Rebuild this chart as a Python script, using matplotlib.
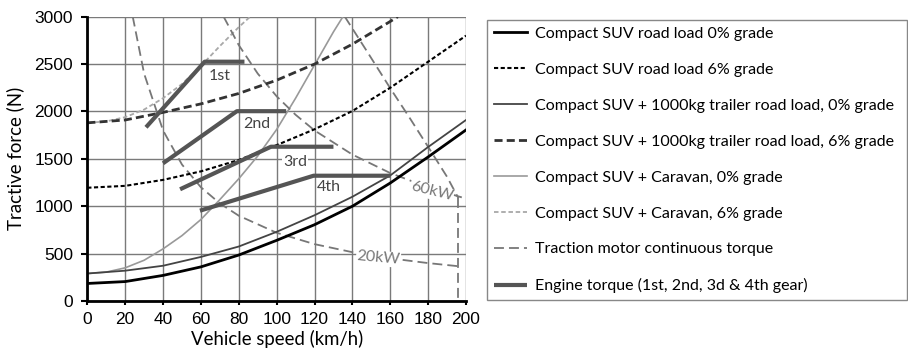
import numpy as np
import matplotlib
matplotlib.use("Agg")
import matplotlib.pyplot as plt

# ---- data (speed km/h, tractive force N) ----
speed = [0, 20, 40, 60, 80, 100, 120, 140, 160, 180, 200]
suv_0 = [185, 205, 270, 360, 485, 640, 805, 1000, 1245, 1520, 1805]
suv_6 = [1195, 1215, 1278, 1368, 1488, 1645, 1812, 2005, 2250, 2525, 2800]
trailer_0 = [290, 320, 372, 465, 575, 730, 905, 1100, 1325, 1625, 1910]

trailer_6_speed = [0, 20, 40, 60, 80, 100, 120, 140, 160, 164]
trailer_6 = [1880, 1910, 1990, 2080, 2190, 2330, 2500, 2710, 2950, 3000]

caravan_0_speed = [0, 10, 20, 30, 40, 50, 60, 70, 80, 90, 100, 110, 120, 130, 135]
caravan_0 = [290, 305, 350, 430, 550, 690, 860, 1070, 1290, 1530, 1810, 2140, 2490, 2840, 3000]

caravan_6_speed = [0, 10, 20, 30, 40, 50, 60, 70, 80, 86]
caravan_6 = [1880, 1895, 1940, 2020, 2140, 2290, 2480, 2690, 2890, 3000]

# traction motor continuous torque
motor_20_speed = [24, 30, 40, 50, 60, 70, 80, 100, 120, 140, 160, 180, 196]
motor_20 = [3000, 2400, 1800, 1440, 1200, 1030, 900, 720, 600, 515, 450, 400, 367]
motor_60_speed = [72, 80, 90, 100, 110, 120, 140, 160, 180, 200]
motor_60 = [3000, 2700, 2400, 2160, 1965, 1800, 1545, 1350, 1200, 1080]
motor_hi_speed = [136, 148, 160, 170, 181, 190, 196]
motor_hi = [3000, 2625, 2245, 1940, 1595, 1310, 1085]
motor_max_speed = [196, 196]
motor_max = [1085, 0]

# engine torque per gear: start, knee, end
gear_names = ["1st", "2nd", "3rd", "4th"]
gear_speed = [[31, 62, 83], [40, 79, 105], [49, 97, 130], [59.5, 119.5, 160]]
gear_force = [[1833, 2525, 2525], [1453, 2003, 2003], [1179, 1628, 1628], [953, 1322, 1322]]
gear_label_pos = [(70, 2375), (89.5, 1868), (109.7, 1464), (127.8, 1200)]

plt.rcParams['font.family'] = ['Liberation Sans', 'DejaVu Sans']
label_font = ['Lato', 'DejaVu Sans']

fig = plt.figure(figsize=(9.08, 3.53), dpi=100)
ax = fig.add_axes([87.3 / 908, 52 / 353, 378.7 / 908, 284.3 / 353])

ax.plot(speed, suv_0, color="black", lw=2, label="Compact SUV road load 0% grade", zorder=4)
ax.plot(speed, suv_6, color="black", lw=1.5, dashes=(2, 1.2), label="Compact SUV road load 6% grade", zorder=4)
ax.plot(speed, trailer_0, color="#444444", lw=1.3, label="Compact SUV + 1000kg trailer road load, 0% grade", zorder=4)
ax.plot(trailer_6_speed, trailer_6, color="#333333", lw=2, dashes=(2.9, 1.5),
        label="Compact SUV + 1000kg trailer road load, 6% grade", zorder=4)
ax.plot(caravan_0_speed, caravan_0, color="#999999", lw=1.2, label="Compact SUV + Caravan, 0% grade", zorder=3)
ax.plot(caravan_6_speed, caravan_6, color="#a8a8a8", lw=1.3, dashes=(2.5, 1.5),
        label="Compact SUV + Caravan, 6% grade", zorder=3)

motor_style = dict(color="#777777", lw=1.3, dashes=(5.5, 2.8), zorder=3)
ax.plot(motor_20_speed, motor_20, label="Traction motor continuous torque", **motor_style)
ax.plot(motor_60_speed, motor_60, **motor_style)
ax.plot(motor_hi_speed, motor_hi, **motor_style)
ax.plot(motor_max_speed, motor_max, **motor_style)

for i in range(len(gear_names)):
    ax.plot(gear_speed[i], gear_force[i], color="#555555", lw=3, solid_capstyle="butt", zorder=5,
            label="Engine torque (1st, 2nd, 3d & 4th gear)" if i == 0 else None)
    ax.text(gear_label_pos[i][0], gear_label_pos[i][1], gear_names[i], fontsize=11.5, color="#444444",
            family=label_font, ha="center", va="center", zorder=6,
            bbox=dict(facecolor="white", edgecolor="none", pad=0.5))

ax.text(181.9, 1153, "60kW", fontsize=11.5, color="#777777", family=label_font,
        ha="center", va="center", rotation=-14, zorder=6,
        bbox=dict(facecolor="white", edgecolor="none", pad=0.5))
ax.text(153.7, 450, "20kW", fontsize=11.5, color="#777777", family=label_font,
        ha="center", va="center", rotation=-5, zorder=6,
        bbox=dict(facecolor="white", edgecolor="none", pad=0.5))

ax.set_xlim(0, 200)
ax.set_ylim(0, 3000)
ax.set_xticks(range(0, 201, 20))
ax.set_yticks(range(0, 3001, 500))
ax.grid(True, color="#7a7a7a", lw=1, zorder=0)
ax.set_axisbelow(True)
for s in ["top", "right"]:
    ax.spines[s].set_visible(False)
for s in ["left", "bottom"]:
    ax.spines[s].set_linewidth(2)
    ax.spines[s].set_zorder(7)
ax.tick_params(axis="y", direction="out", length=4.3, width=1.5, labelsize=12.5, pad=6, colors="black")
ax.tick_params(axis="x", direction="out", length=3, width=1.5, labelsize=12.5, pad=5, colors="black")
ax.set_xlabel("Vehicle speed (km/h)", fontsize=13.4, family=label_font, labelpad=2)
ax.set_ylabel("Tractive force (N)", fontsize=13.4, family=label_font, labelpad=7)

leg = fig.legend(loc="upper left", bbox_to_anchor=(486.7 / 908, 1 - 20 / 353, 420 / 908, 0.001),
                 mode="expand", prop=dict(family=label_font, size=11.5), borderaxespad=0,
                 handlelength=2.1, handletextpad=0.45, labelspacing=1.36, borderpad=0.45,
                 fancybox=False, edgecolor="#888888", framealpha=1)
leg.get_frame().set_linewidth(1)

fig.savefig("out.png", dpi=100)
